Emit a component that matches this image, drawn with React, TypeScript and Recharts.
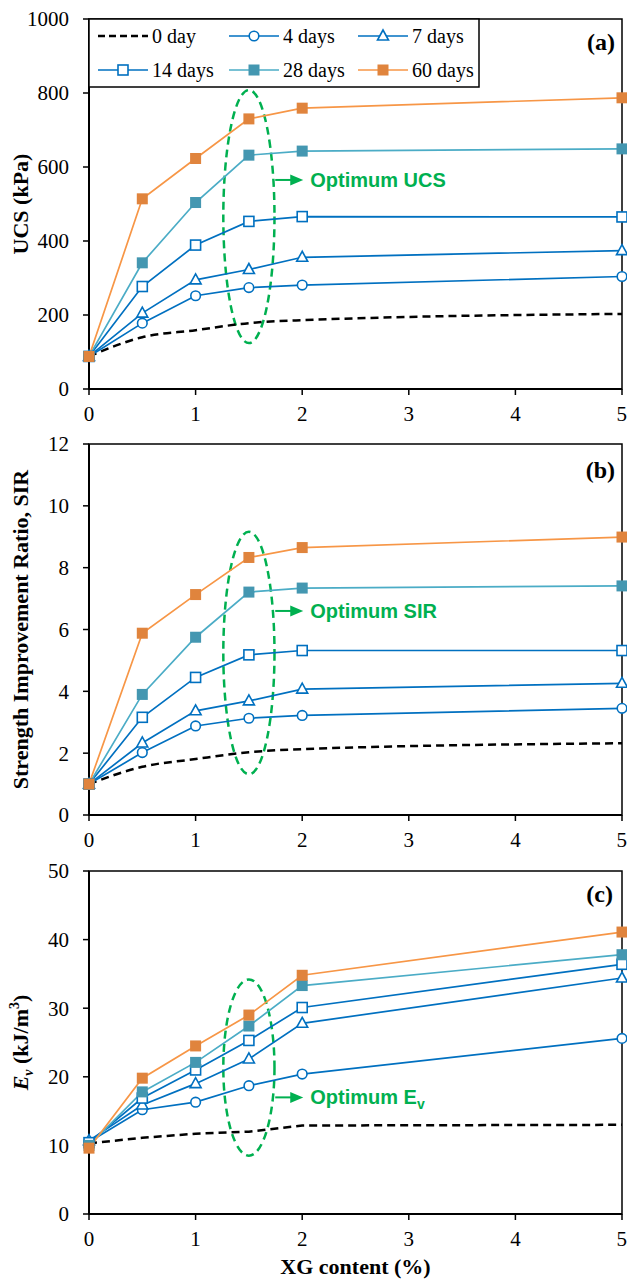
import React from 'react';
import { LineChart, Line, XAxis, YAxis, ReferenceArea, ReferenceDot } from 'recharts';

const xgContent = [0, 0.5, 1, 1.5, 2, 5];
const xTicks = [0, 1, 2, 3, 4, 5];

// (a) UCS, kPa
const ucs0 = [88, 140, 159, 178, 186, 203];
const ucs4 = [88, 178, 252, 274, 281, 304];
const ucs7 = [88, 205, 295, 323, 356, 374];
const ucs14 = [88, 277, 389, 453, 466, 465];
const ucs28 = [88, 341, 504, 632, 643, 649];
const ucs60 = [88, 514, 623, 730, 759, 787];
const ucsTicks = [0, 200, 400, 600, 800, 1000];

// (b) strength improvement ratio
const sir0 = [1, 1.56, 1.81, 2.03, 2.13, 2.32];
const sir4 = [1, 2.02, 2.88, 3.13, 3.22, 3.45];
const sir7 = [1, 2.33, 3.37, 3.69, 4.07, 4.26];
const sir14 = [1, 3.16, 4.45, 5.18, 5.32, 5.32];
const sir28 = [1, 3.9, 5.75, 7.21, 7.34, 7.41];
const sir60 = [1, 5.88, 7.13, 8.33, 8.65, 8.99];
const sirTicks = [0, 2, 4, 6, 8, 10, 12];

// (c) Ev, kJ/m3
const ev0 = [10.3, 11.1, 11.7, 12.0, 12.9, 13.0];
const ev4 = [10.5, 15.2, 16.3, 18.7, 20.4, 25.6];
const ev7 = [10.7, 15.9, 19.0, 22.6, 27.8, 34.4];
const ev14 = [10.4, 16.9, 21.0, 25.3, 30.1, 36.4];
const ev28 = [10.0, 17.8, 22.1, 27.4, 33.3, 37.8];
const ev60 = [9.6, 19.8, 24.5, 29.0, 34.8, 41.1];
const evTicks = [0, 10, 20, 30, 40, 50];

const series = [
  { key: 'd0', name: '0 day', color: '#000000', fill: '#000000', marker: 'none' },
  { key: 'd4', name: '4 days', color: '#0070C0', fill: '#ffffff', marker: 'circle' },
  { key: 'd7', name: '7 days', color: '#0070C0', fill: '#ffffff', marker: 'triangle' },
  { key: 'd14', name: '14 days', color: '#0070C0', fill: '#ffffff', marker: 'square' },
  { key: 'd28', name: '28 days', color: '#4BACC6', fill: '#4497B1', marker: 'filled' },
  { key: 'd60', name: '60 days', color: '#F79646', fill: '#E0843D', marker: 'filled' },
];

const SERIF = 'Liberation Serif, Times New Roman, serif';
const SANS = 'Liberation Sans, Arial, sans-serif';
const GREEN = '#00B050';

function buildRows(cols: number[][]) {
  return xgContent.map((x, i) => {
    const row: any = { x };
    series.forEach((s, j) => (row[s.key] = cols[j][i]));
    return row;
  });
}

function Marker({ cx, cy, kind, color, fill }: any) {
  if (cx == null || cy == null || kind === 'none') return null;
  if (kind === 'circle')
    return <circle cx={cx} cy={cy} r={4.8} fill="#fff" stroke={color} strokeWidth={1.6} />;
  if (kind === 'triangle')
    return (
      <polygon
        points={`${cx},${cy - 6} ${cx - 5.5},${cy + 4} ${cx + 5.5},${cy + 4}`}
        fill="#fff"
        stroke={color}
        strokeWidth={1.6}
      />
    );
  if (kind === 'square')
    return <rect x={cx - 5} y={cy - 5} width={10} height={10} fill="#fff" stroke={color} strokeWidth={1.6} />;
  return <rect x={cx - 5.5} y={cy - 5.5} width={11} height={11} fill={fill} />;
}

const tickStyle = { fill: '#000', fontSize: 21, fontFamily: SERIF };

function Panel({ cols, ticks, top, height, marginTop, xAxisHeight, yLabel, xLabel, ellipse, arrowY, optText, dashType }: any) {
  const data = buildRows(cols);
  const yMax = ticks[ticks.length - 1];
  return (
    <div style={{ position: 'absolute', left: 0, top }}>
      <LineChart width={627} height={height} data={data} margin={{ top: marginTop, right: 5, left: 0, bottom: 0 }}>
        <XAxis
          type="number"
          dataKey="x"
          domain={[0, 5]}
          ticks={xTicks}
          height={xAxisHeight}
          tick={tickStyle}
          tickSize={6}
          tickMargin={11}
          axisLine={{ stroke: '#000', strokeWidth: 2 }}
          tickLine={{ stroke: '#000', strokeWidth: 1.5 }}
          label={
            xLabel
              ? {
                  content: (p: any) => (
                    <text
                      x={p.viewBox.x + p.viewBox.width / 2}
                      y={p.viewBox.y + 60}
                      textAnchor="middle"
                      fontFamily={SERIF}
                      fontWeight="bold"
                      fontSize={22}
                      fill="#000"
                    >
                      {xLabel}
                    </text>
                  ),
                }
              : undefined
          }
        />
        <YAxis
          type="number"
          domain={[0, yMax]}
          ticks={ticks}
          width={89}
          tick={tickStyle}
          tickSize={6}
          tickMargin={14}
          axisLine={{ stroke: '#000', strokeWidth: 2 }}
          tickLine={{ stroke: '#000', strokeWidth: 1.5 }}
          label={{
            content: (p: any) => {
              const cy = p.viewBox.y + p.viewBox.height / 2;
              const lx = 28;
              return (
                <text
                  x={lx}
                  y={cy}
                  transform={`rotate(-90, ${lx}, ${cy})`}
                  textAnchor="middle"
                  fontFamily={SERIF}
                  fontWeight="bold"
                  fontSize={22}
                  fill="#000"
                >
                  {yLabel}
                </text>
              );
            },
          }}
        />
        <ReferenceArea x1={0} x2={5} y1={0} y2={yMax} fill="none" stroke="#000" strokeWidth={1.5} ifOverflow="visible" />
        <ReferenceArea
          x1={1.26}
          x2={1.74}
          y1={ellipse[0]}
          y2={ellipse[1]}
          ifOverflow="visible"
          shape={(p: any) => (
            <ellipse
              cx={p.x + p.width / 2}
              cy={p.y + p.height / 2}
              rx={p.width / 2}
              ry={p.height / 2}
              fill="none"
              stroke={GREEN}
              strokeWidth={2.5}
              strokeDasharray="8 5"
            />
          )}
        />
        <ReferenceDot
          x={1.747}
          y={arrowY}
          ifOverflow="visible"
          shape={(p: any) => (
            <g>
              <line x1={p.cx} y1={p.cy} x2={p.cx + 17} y2={p.cy} stroke={GREEN} strokeWidth={2} />
              <polygon points={`${p.cx + 15},${p.cy - 5.5} ${p.cx + 28},${p.cy} ${p.cx + 15},${p.cy + 5.5}`} fill={GREEN} />
              <text x={p.cx + 35} y={p.cy + 7} fontFamily={SANS} fontWeight="bold" fontSize={20} fill={GREEN}>
                {optText}
              </text>
            </g>
          )}
        />
        {series.map((s) => (
          <Line
            key={s.key}
            dataKey={s.key}
            type={s.marker === 'none' ? dashType : 'linear'}
            stroke={s.color}
            strokeWidth={s.marker === 'none' ? 2.5 : 1.7}
            strokeDasharray={s.marker === 'none' ? '8 5' : undefined}
            isAnimationActive={false}
            activeDot={false}
            dot={
              s.marker === 'none'
                ? false
                : (p: any) => (
                    <Marker key={`${s.key}-${p.index}`} cx={p.cx} cy={p.cy} kind={s.marker} color={s.color} fill={s.fill} />
                  )
            }
          />
        ))}
      </LineChart>
    </div>
  );
}

const legendCols = [98, 229, 358];
const legendRows = [36, 70];

function Overlay() {
  return (
    <svg width={627} height={1281} style={{ position: 'absolute', left: 0, top: 0, pointerEvents: 'none' }}>
      <rect x={89} y={19} width={390} height={68} fill="#fff" stroke="#000" strokeWidth={1.5} />
      {series.map((s, i) => {
        const x0 = legendCols[i % 3];
        const y = legendRows[Math.floor(i / 3)];
        return (
          <g key={s.key}>
            <line
              x1={x0}
              y1={y}
              x2={x0 + 50}
              y2={y}
              stroke={s.color}
              strokeWidth={s.marker === 'none' ? 2.5 : 1.7}
              strokeDasharray={s.marker === 'none' ? '7 4' : undefined}
            />
            <Marker cx={x0 + 25} cy={y} kind={s.marker} color={s.color} fill={s.fill} />
            <text x={x0 + 54} y={y + 7} fontFamily={SERIF} fontSize={20} fill="#000">
              {s.name}
            </text>
          </g>
        );
      })}
      <text x={615} y={50} textAnchor="end" fontFamily={SERIF} fontWeight="bold" fontSize={24} fill="#000">(a)</text>
      <text x={615} y={478} textAnchor="end" fontFamily={SERIF} fontWeight="bold" fontSize={24} fill="#000">(b)</text>
      <text x={613} y={902} textAnchor="end" fontFamily={SERIF} fontWeight="bold" fontSize={24} fill="#000">(c)</text>
    </svg>
  );
}

export default function App() {
  return (
    <div style={{ position: 'absolute', left: 0, top: 0, width: 627, height: 1281, background: '#fff' }}>
      <Panel
        cols={[ucs0, ucs4, ucs7, ucs14, ucs28, ucs60]}
        ticks={ucsTicks}
        top={0}
        height={430}
        marginTop={19}
        xAxisHeight={41}
        yLabel="UCS (kPa)"
        ellipse={[124, 808]}
        arrowY={565}
        optText="Optimum UCS"
        dashType="monotone"
      />
      <Panel
        cols={[sir0, sir4, sir7, sir14, sir28, sir60]}
        ticks={sirTicks}
        top={420}
        height={436}
        marginTop={24}
        xAxisHeight={41}
        yLabel="Strength Improvement Ratio, SIR"
        ellipse={[1.32, 9.16]}
        arrowY={6.6}
        optText="Optimum SIR"
        dashType="monotone"
      />
      <Panel
        cols={[ev0, ev4, ev7, ev14, ev28, ev60]}
        ticks={evTicks}
        top={846}
        height={435}
        marginTop={25}
        xAxisHeight={67}
        yLabel={
          <>
            <tspan fontStyle="italic">E</tspan>
            <tspan fontStyle="italic" fontSize={14} dy={5}>v</tspan>
            <tspan dy={-5}> (kJ/m</tspan>
            <tspan fontSize={14} dy={-9}>3</tspan>
            <tspan dy={9}>)</tspan>
          </>
        }
        xLabel="XG content (%)"
        ellipse={[8.5, 34.2]}
        arrowY={17}
        optText={
          <>
            Optimum E<tspan fontSize={14} dy={5}>v</tspan>
          </>
        }
        dashType="linear"
      />
      <Overlay />
    </div>
  );
}
